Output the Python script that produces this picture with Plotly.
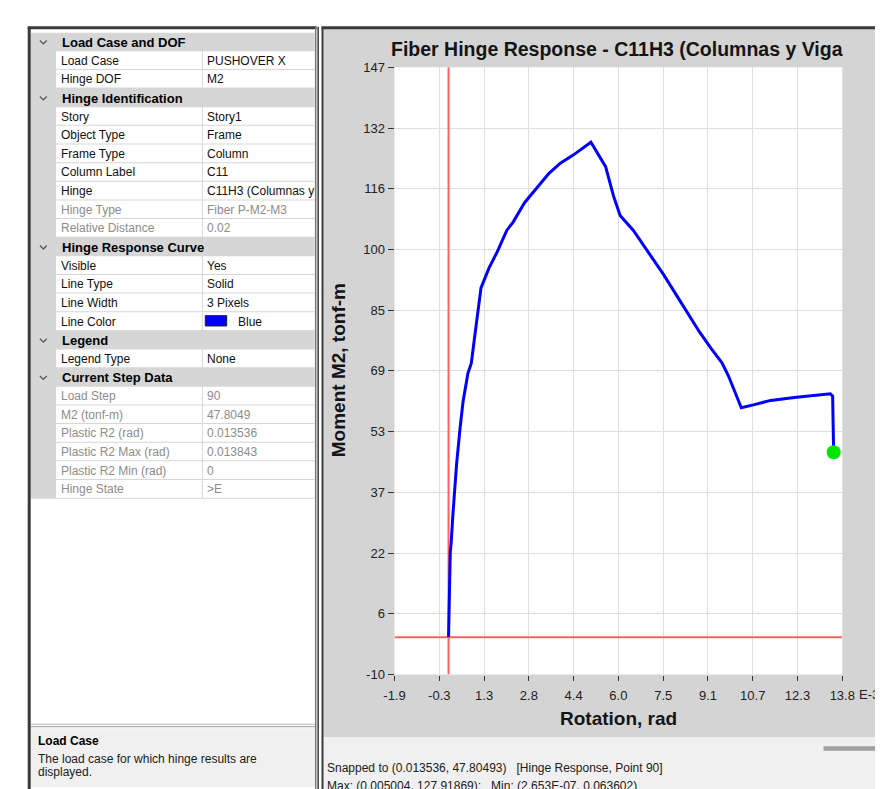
import numpy as np
import plotly.graph_objects as go

# ---------------- data ----------------
rotation_e3 = [0.0, 0.02, 0.04, 0.06, 0.09, 0.15, 0.19, 0.28, 0.40, 0.51, 0.68, 0.80, 0.91, 1.00,
               1.10, 1.14, 1.42, 1.71, 2.05, 2.27, 2.67, 3.07, 3.53, 3.93, 4.38, 5.004, 5.18, 5.52,
               5.80, 6.03, 6.49, 7.00, 7.56, 8.13, 8.82, 9.22, 9.61, 9.84, 10.29, 10.75, 11.32,
               12.23, 13.03, 13.42, 13.50, 13.51, 13.536]
moment_m2 = [0.06, 4.7, 14.7, 22.0, 24.2, 31.4, 36.0, 44.6, 53.7, 60.9, 68.2, 70.8, 77.2, 82.6,
             89.0, 90.3, 95.4, 99.6, 105.2, 107.3, 112.3, 115.7, 119.9, 122.5, 124.6, 127.92, 125.8, 121.6,
             114.0, 109.0, 105.2, 99.6, 93.7, 87.0, 78.9, 74.7, 70.9, 67.5, 59.3, 60.1, 61.2,
             62.0, 62.6, 62.9, 62.3, 54.8, 47.80]
current_point = (13.536, 47.80493)

x_range = [-1.9, 13.84]
y_range = [-9.65, 147.3]
x_tick_labels = ["-1.9", "-0.3", "1.3", "2.8", "4.4", "6.0", "7.5", "9.1", "10.7", "12.3", "13.8"]
y_tick_labels = ["-10", "6", "22", "37", "53", "69", "85", "100", "116", "132", "147"]

chart_title = "Fiber Hinge Response - C11H3 (Columnas y Viga"
x_title = "Rotation, rad"
y_title = "Moment M2, tonf-m"

grid_kinds = ["cat", "row", "row", "cat", "row", "row", "row", "row", "row", "dis", "dis", "cat",
              "row", "row", "row", "color", "cat", "row", "cat", "dis", "dis", "dis", "dis", "dis", "dis"]
grid_labels = ["Load Case and DOF", "Load Case", "Hinge DOF", "Hinge Identification", "Story",
               "Object Type", "Frame Type", "Column Label", "Hinge", "Hinge Type", "Relative Distance",
               "Hinge Response Curve", "Visible", "Line Type", "Line Width", "Line Color", "Legend",
               "Legend Type", "Current Step Data", "Load Step", "M2 (tonf-m)", "Plastic R2 (rad)",
               "Plastic R2 Max (rad)", "Plastic R2 Min (rad)", "Hinge State"]
grid_values = ["", "PUSHOVER X", "M2", "", "Story1", "Frame", "Column", "C11", "C11H3 (Columnas y",
               "Fiber P-M2-M3", "0.02", "", "Yes", "Solid", "3 Pixels", "Blue", "", "None", "",
               "90", "47.8049", "0.013536", "0.013843", "0", "&gt;E"]

status_lines = ["Snapped to (0.013536, 47.80493)   [Hinge Response, Point 90]",
                "Max: (0.005004, 127.91869);   Min: (2.653E-07, 0.063602)"]
help_title = "Load Case"
help_lines = ["The load case for which hinge results are", "displayed."]

# ---------------- helpers ----------------
W, H = 883, 789
FONT = "Liberation Sans, Arial, sans-serif"


def fx(px):
    return px / W


def fy(py):
    return 1 - py / H


shapes = []
annotations = []


def rect(x0, y0, x1, y1, fill, line_color=None, lw=0, layer="below"):
    shapes.append(dict(type="rect", xref="paper", yref="paper", x0=fx(x0), x1=fx(x1),
                       y0=fy(y1), y1=fy(y0), fillcolor=fill, layer=layer,
                       line=dict(color=line_color or fill, width=lw)))


def hline(x0, x1, y, color, w=1):
    shapes.append(dict(type="line", xref="paper", yref="paper", x0=fx(x0), x1=fx(x1),
                       y0=fy(y), y1=fy(y), line=dict(color=color, width=w), layer="below"))


def vline(x, y0, y1, color, w=1):
    shapes.append(dict(type="line", xref="paper", yref="paper", x0=fx(x), x1=fx(x),
                       y0=fy(y0), y1=fy(y1), line=dict(color=color, width=w), layer="below"))


def text(px, py, s, size=12, color="#000000", bold=False, anchor="left", angle=0):
    if bold:
        s = "<b>" + s + "</b>"
    annotations.append(dict(xref="paper", yref="paper", x=fx(px), y=fy(py), text=s,
                            showarrow=False, xanchor=anchor, yanchor="middle", textangle=angle,
                            font=dict(family=FONT, size=size, color=color), borderpad=0))


# ---------------- left property panel ----------------
GRID_COLOR = "#d6d6d6"
ROW_TOP0, ROW_H = 18, 19
n_rows = len(grid_kinds)
grid_bottom = ROW_TOP0 + ROW_H * n_rows

rect(12, 14, 305, 787, "#ffffff")
rect(12, ROW_TOP0, 304, grid_bottom, GRID_COLOR)
for i, kind in enumerate(grid_kinds):
    top = ROW_TOP0 + ROW_H * i
    cy = top + ROW_H / 2
    if kind == "cat":
        text(43, cy + 0.5, grid_labels[i], size=13, bold=True)
        shapes.append(dict(type="path", xref="paper", yref="paper", layer="below",
                           path=f"M {fx(21.5)},{fy(cy - 1.5)} L {fx(25)},{fy(cy + 2)} L {fx(28.5)},{fy(cy - 1.5)}",
                           line=dict(color="#555555", width=1.3)))
    else:
        rect(38, top, 188, top + ROW_H - 1, "#ffffff")
        rect(189, top, 304, top + ROW_H - 1, "#ffffff")
        col = "#8c8c8c" if kind == "dis" else "#101010"
        text(42, cy, grid_labels[i], size=12, color=col)
        if kind == "color":
            rect(191.5, top + 3.5, 213.5, top + ROW_H - 5, "#0000ff", "#202020", 1)
            text(224, cy, grid_values[i], size=12, color=col)
        else:
            text(192, cy, grid_values[i], size=12, color=col)

# help box
hline(12, 305, 723, "#b5b5b5", 1)
hline(12, 305, 725.5, "#9a9a9a", 1)
rect(12, 727, 304, 787, "#f0f0f0")
text(19, 740, help_title, size=12, bold=True)
text(19, 758, help_lines[0], size=12, color="#202020")
text(19, 772, help_lines[1], size=12, color="#202020")

# left panel borders
vline(10.5, 12, 789, "#3a3a3a", 3)
hline(9, 306, 13, "#3a3a3a", 3)
vline(305, 12, 789, "#7a7a7a", 1.5)
vline(307.5, 12, 789, "#3a3a3a", 1.5)

# ---------------- right chart panel ----------------
PLOT_L, PLOT_R, PLOT_T, PLOT_B = 386, 846.3, 53.3, 672.3
rect(313, 14, 883, 736, "#d4d4d4")
rect(PLOT_L, PLOT_T, PLOT_R, PLOT_B, "#ffffff")
rect(313, 736, 883, 789, "#f0f0f0")
rect(827, 745.5, 883, 750, "#a0a0a0")
hline(311, 883, 13, "#3a3a3a", 3)
vline(312, 12, 789, "#3a3a3a", 2)

text(615, 35, chart_title, size=19.5, bold=True, anchor="center", color="#141414")
text(616, 717, x_title, size=19, bold=True, anchor="center", color="#141414")
text(328, 362, y_title, size=19, bold=True, anchor="center", angle=-90, color="#141414")
text(862.5, 693, "E-3", size=13, color="#222222", anchor="left")
text(316, 767.5, status_lines[0], size=12, color="#202020")
text(316, 785.5, status_lines[1], size=12, color="#202020")

# ---------------- traces ----------------
fig = go.Figure()
fig.add_trace(go.Scatter(x=[0, 0], y=y_range, mode="lines",
                         line=dict(color="#ff5f5f", width=2), hoverinfo="skip"))
fig.add_trace(go.Scatter(x=x_range, y=[0, 0], mode="lines",
                         line=dict(color="#ff5f5f", width=2), hoverinfo="skip"))
fig.add_trace(go.Scatter(x=rotation_e3, y=moment_m2, mode="lines",
                         line=dict(color="#0000ff", width=3)))
fig.add_trace(go.Scatter(x=[current_point[0]], y=[current_point[1]], mode="markers",
                         marker=dict(color="#00e600", size=14, line=dict(width=0))))

xt = np.linspace(x_range[0], x_range[1], len(x_tick_labels))
yt = np.linspace(y_range[0], y_range[1], len(y_tick_labels))

fig.update_layout(
    width=W, height=H, margin=dict(l=0, r=0, t=0, b=0),
    paper_bgcolor="#ffffff", plot_bgcolor="#ffffff",
    showlegend=False,
    shapes=shapes, annotations=annotations,
    font=dict(family=FONT),
    xaxis=dict(domain=[fx(PLOT_L), fx(PLOT_R)], range=x_range, tickmode="array",
               tickvals=xt, ticktext=x_tick_labels, ticks="outside", ticklen=5,
               tickcolor="#333333", tickwidth=1, showgrid=True, gridcolor="#dedede",
               gridwidth=1, zeroline=False, showline=False, ticklabelstandoff=4,
               tickfont=dict(family=FONT, size=13, color="#222222")),
    yaxis=dict(domain=[fy(PLOT_B), fy(PLOT_T)], range=y_range, tickmode="array",
               tickvals=yt, ticktext=y_tick_labels, ticks="outside", ticklen=6,
               tickcolor="#333333", tickwidth=1, showgrid=True, gridcolor="#dedede",
               gridwidth=1, zeroline=False, showline=False,
               tickfont=dict(family=FONT, size=13, color="#222222")),
)

fig.write_html("out.html")
